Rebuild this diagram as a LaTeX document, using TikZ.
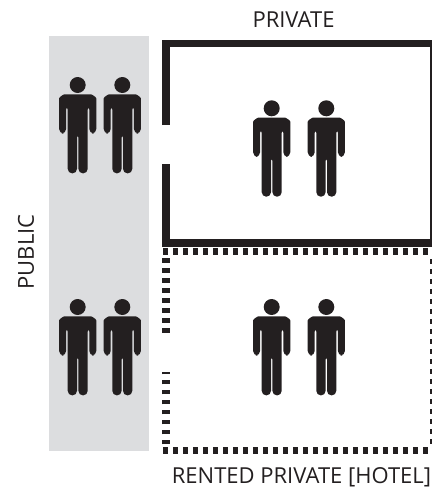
\documentclass[tikz,border=0pt]{standalone}
\usepackage{fontspec}
\setmainfont{Open Sans}
\usetikzlibrary{positioning}
\definecolor{figblack}{HTML}{231F20}
\definecolor{zonegray}{HTML}{DCDDDF}
\begin{document}
\begin{tikzpicture}[
  x=0.75pt, y=-0.75pt,
  zonelabel/.style={inner sep=0pt, text=figblack, font=\fontsize{16.5}{18}\selectfont},
  solidwall/.style={draw=figblack, line width=5.4pt},
  hotelwall/.style={draw=figblack, line width=5.4pt, dash pattern=on 3.4pt off 4.1pt},
  person/.pic={
    \fill[figblack] (0,0) circle (8);
    \fill[figblack, rounded corners=3.4pt]
      (-18.6,48.5) -- (-18.6,18) .. controls (-18.6,12) and (-14,9.4) .. (-9,9.4)
      -- (9,9.4) .. controls (14,9.4) and (18.6,12) .. (18.6,18)
      -- (18.6,48.5) -- (11.6,48.5) -- (11.6,20) -- (10,20)
      -- (10,88.4) -- (0.7,88.4) -- (0.7,48) -- (-0.7,48) -- (-0.7,88.4)
      -- (-10,88.4) -- (-10,20) -- (-11.6,20) -- (-11.6,48.5) -- cycle;
  }
]
\useasboundingbox (0,0) rectangle (432,493);
%% public zone
\fill[zonegray] (49,36) rectangle (149,451);
%% walls of the private room
\coordinate (priv_doortop) at (166,125);
\coordinate (priv_doorbot) at (166,164.3);
\coordinate (priv_nw) at (166,43.5);
\coordinate (priv_ne) at (433.5,43.5);
\coordinate (priv_sw) at (166,243);
\coordinate (priv_se) at (433.5,243);
\draw[solidwall] (priv_doortop) -- (priv_nw) -- (priv_ne) -- (priv_se);
\draw[solidwall] (priv_doorbot) -- (priv_sw) -- (priv_se);
%% walls of the hotel room
\coordinate (htl_nw) at (163,251.5);
\coordinate (htl_ne) at (432,251.5);
\coordinate (htl_sw) at (163,450.3);
\coordinate (htl_se) at (432,450.3);
\draw[hotelwall] (htl_nw) -- (htl_ne);
\draw[hotelwall] (htl_sw) -- (htl_se);
\draw[hotelwall] (166,258) -- (166,333);
\draw[hotelwall] (166,444.3) -- (166,371.7);
\draw[hotelwall] (433.5,259) -- (433.5,447);
%% people
\foreach \px/\py in {77.7/85, 122.3/85, 271.7/108.3, 326.3/108.3, 77.7/307, 122.3/307, 271.7/307, 326.3/307}
  \pic at (\px,\py) {person};
%% labels
\node[zonelabel] (lbl_private) at (293.5,20) {PRIVATE};
\node[zonelabel, rotate=90] (lbl_public) at (26,252) {PUBLIC};
\node[zonelabel] (lbl_hotel) at (301.5,477) {RENTED PRIVATE [HOTEL]};
\end{tikzpicture}
\end{document}
